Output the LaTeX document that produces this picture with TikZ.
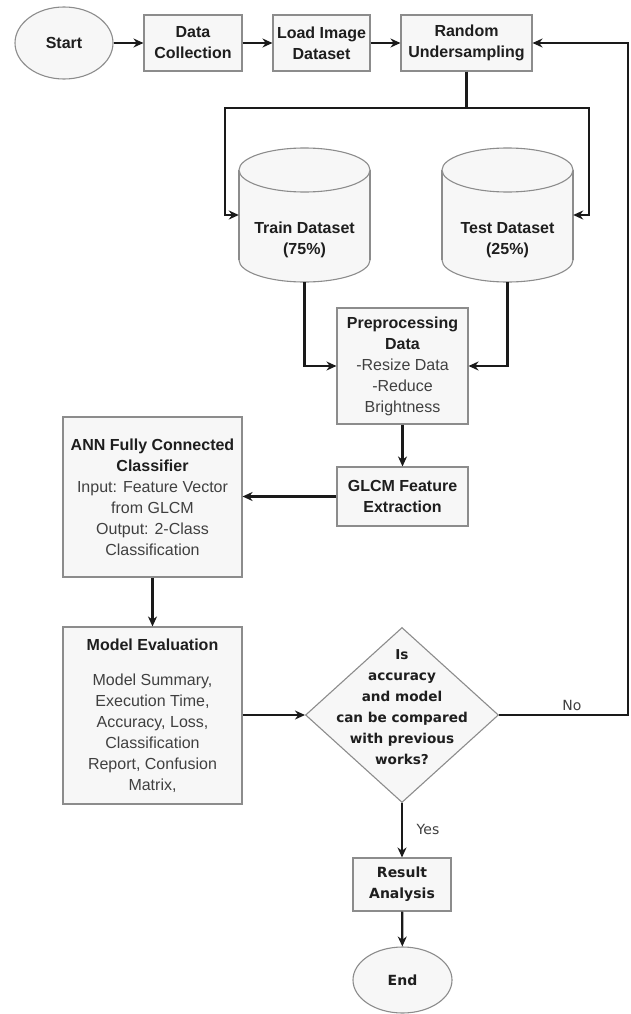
\documentclass[tikz,border=0pt]{standalone}
\usepackage{fontspec}
\setmainfont{Liberation Sans}
\newfontfamily\dvfont{DejaVu Sans}
\usetikzlibrary{shapes.geometric,arrows.meta}
\definecolor{boxfill}{HTML}{F7F7F7}
\definecolor{boxline}{HTML}{8C8C8C}
\definecolor{txtdark}{HTML}{1E1E1E}
\definecolor{txtgray}{HTML}{404040}
\definecolor{linec}{HTML}{1A1A1A}
\newcommand\bt[1]{{\bfseries\color{txtdark}#1}}
\begin{document}
\begin{tikzpicture}[x=1pt,y=-1pt,
  proc/.style={draw=boxline, fill=boxfill, line width=1.1pt, rectangle, inner sep=0pt, align=center,
    font=\fontsize{16}{21}\selectfont, text=txtgray},
  bproc/.style={proc, font=\bfseries\fontsize{16}{21}\selectfont, text=txtdark},
  term/.style={draw=boxline, fill=boxfill, line width=1.1pt, ellipse, inner sep=0pt, text=txtdark},
  cylfill/.style={fill=boxfill, draw=none},
  cylline/.style={draw=boxline, line width=1.1pt},
  arr/.style={draw=linec, line width=2.2pt, -{Stealth[length=10pt,width=9pt]}},
  lbl/.style={font=\dvfont\fontsize{14}{16}\selectfont, text=txtgray}
]
\useasboundingbox[fill=white] (0,0) rectangle (630,1014);

% top row
\node[term, minimum width=98pt, minimum height=72pt, font=\bfseries\fontsize{16}{21}\selectfont] (start) at (64,43) {Start};
\node[bproc, minimum width=98pt, minimum height=56pt] (dc) at (193,43) {Data\\Collection};
\node[bproc, minimum width=97pt, minimum height=56pt] (load) at (321.5,43) {Load Image\\Dataset};
\node[bproc, minimum width=131pt, minimum height=56pt] (rand) at (466.5,43) {Random\\Undersampling};

% cylinders
\foreach \cx in {304.5,507.5}{
  \fill[cylfill] (\cx-65.5,170) rectangle (\cx+65.5,260);
  \filldraw[cylline, fill=boxfill] (\cx,260) ellipse [x radius=65.5, y radius=22];
  \fill[cylfill] (\cx-64.9,170) rectangle (\cx+64.9,260);
  \draw[cylline] (\cx-65.5,170) -- (\cx-65.5,260);
  \draw[cylline] (\cx+65.5,170) -- (\cx+65.5,260);
  \filldraw[cylline, fill=boxfill] (\cx,170) ellipse [x radius=65.5, y radius=22];
}
\node[inner sep=0pt, minimum width=131pt, minimum height=134pt] (train) at (304.5,215) {};
\node[inner sep=0pt, minimum width=131pt, minimum height=134pt] (test) at (507.5,215) {};
\node[align=center, font=\bfseries\fontsize{16}{21}\selectfont, text=txtdark] (traintxt) at (304.5,240) {Train Dataset\\(75\%)};
\node[align=center, font=\bfseries\fontsize{16}{21}\selectfont, text=txtdark] (testtxt) at (507.5,240) {Test Dataset\\(25\%)};

% middle
\node[proc, minimum width=131pt, minimum height=116pt] (pre) at (402.5,366) {\bt{Preprocessing}\\\bt{Data}\\-Resize Data\\-Reduce\\Brightness};
\node[bproc, minimum width=131pt, minimum height=59pt] (glcm) at (402.5,496.5) {GLCM Feature\\Extraction};
\node[proc, minimum width=179pt, minimum height=160pt] (ann) at (152.5,497) {\bt{ANN Fully Connected}\\\bt{Classifier}\\Input: Feature Vector\\from GLCM\\Output: 2-Class\\Classification};
\node[proc, minimum width=179pt, minimum height=177pt] (eval) at (152.5,715.5) {\bt{Model Evaluation}\\[14pt]Model Summary,\\Execution Time,\\Accuracy, Loss,\\Classification\\Report, Confusion\\Matrix,};

% decision
\node[diamond, draw=boxline, fill=boxfill, line width=1.1pt, minimum width=193pt, minimum height=175pt, inner sep=0pt] (dec) at (402,715) {};
\node[align=center, font=\dvfont\bfseries\fontsize{13.6}{21}\selectfont, text=txtdark] (dectxt) at (402,707) {Is\\accuracy\\and model\\can be compared\\with previous\\works?};

\node[proc, minimum width=98pt, minimum height=53pt, font=\dvfont\bfseries\fontsize{14}{21}\selectfont, text=txtdark] (res) at (402,884.5) {Result\\Analysis};
\node[term, minimum width=99pt, minimum height=66pt, font=\dvfont\bfseries\fontsize{14}{21}\selectfont] (end) at (402.5,980) {End};

% connectors
\draw[arr] (start) -- (dc);
\draw[arr] (dc) -- (load);
\draw[arr] (load) -- (rand);
\coordinate (tl) at (225,108);
\coordinate (tr) at (589,108);
\draw[arr] (rand.south) |- (tl) |- (train.west);
\draw[arr] (rand.south) |- (tr) |- (test.east);
\draw[arr] (train.south) |- (pre.west);
\draw[arr] (test.south) |- (pre.east);
\draw[arr] (pre) -- (glcm);
\draw[arr] (glcm.west) -- (glcm.west -| ann.east);
\draw[arr] (ann) -- (eval);
\draw[arr] (eval.east |- dec.west) -- (dec.west);
\coordinate (lp) at (628,43);
\draw[arr] (dec.east) -| (lp) -- (rand.east);
\node[lbl] (no) at (572,705) {No};
\draw[arr] (dec.south) -- (res.north);
\node[lbl] (yes) at (428,829) {Yes};
\draw[arr] (res) -- (end);
\end{tikzpicture}
\end{document}
